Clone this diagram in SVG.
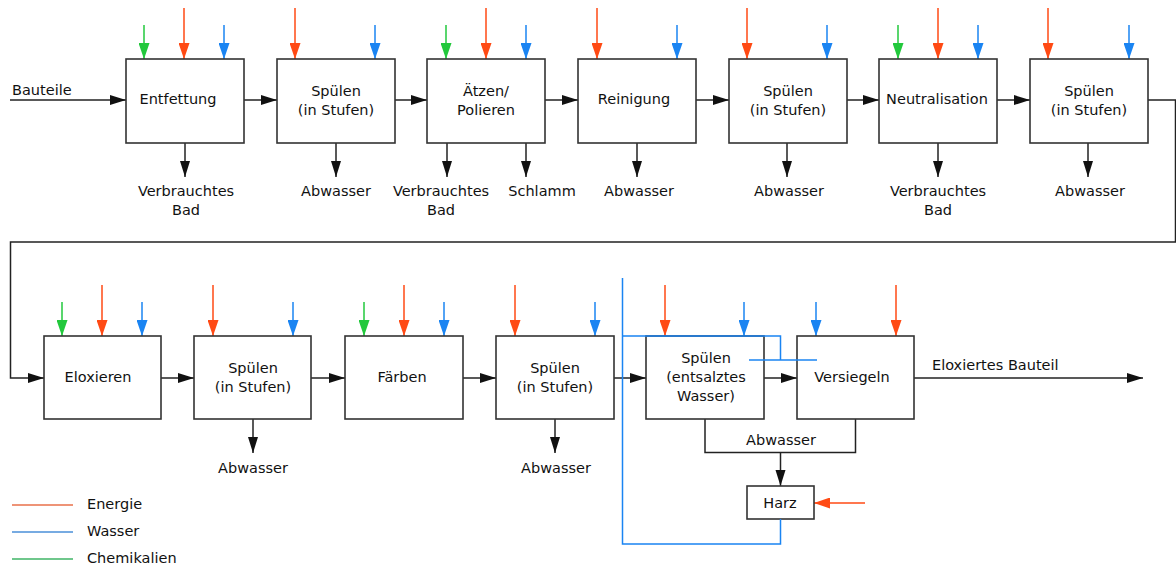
<svg xmlns="http://www.w3.org/2000/svg" width="1176" height="564" viewBox="0 0 1176 564">
<defs>
<style>
text{font-family:"DejaVu Sans","Verdana",sans-serif;font-size:14.5px;fill:#111;text-anchor:middle}
.box{fill:#fff;stroke:#333;stroke-width:1.6}
.ln{fill:none;stroke:#222;stroke-width:1.5}
.r{stroke:#ff4a14;stroke-width:1.5;fill:none}
.b{stroke:#1a84f2;stroke-width:1.5;fill:none}
.g{stroke:#22c83c;stroke-width:1.5;fill:none}
.lr{stroke:#e8704a;stroke-width:1.6}
.lb{stroke:#4a8fd8;stroke-width:1.6}
.lg{stroke:#3fb466;stroke-width:1.6}
.st{text-anchor:start}
</style>
<marker id="ak" markerUnits="userSpaceOnUse" markerWidth="17" markerHeight="11" refX="16" refY="5.5" orient="auto"><path d="M0,0.5 L16,5.5 L0,10.5 z" fill="#111"/></marker>
<marker id="ar" markerUnits="userSpaceOnUse" markerWidth="17" markerHeight="11" refX="16" refY="5.5" orient="auto"><path d="M0,0 L16,5.5 L0,11 z" fill="#ff4a14"/></marker>
<marker id="ab" markerUnits="userSpaceOnUse" markerWidth="17" markerHeight="11" refX="16" refY="5.5" orient="auto"><path d="M0,0 L16,5.5 L0,11 z" fill="#1a84f2"/></marker>
<marker id="ag" markerUnits="userSpaceOnUse" markerWidth="17" markerHeight="11" refX="16" refY="5.5" orient="auto"><path d="M0,0 L16,5.5 L0,11 z" fill="#22c83c"/></marker>
</defs>
<rect width="1176" height="564" fill="#fff"/>

<g id="connectors">
<line class="ln" x1="10" y1="100" x2="126" y2="100" marker-end="url(#ak)"/>
<line class="ln" x1="244" y1="100" x2="277" y2="100" marker-end="url(#ak)"/>
<line class="ln" x1="395" y1="100" x2="427" y2="100" marker-end="url(#ak)"/>
<line class="ln" x1="545" y1="100" x2="578" y2="100" marker-end="url(#ak)"/>
<line class="ln" x1="696" y1="100" x2="729" y2="100" marker-end="url(#ak)"/>
<line class="ln" x1="847" y1="100" x2="879" y2="100" marker-end="url(#ak)"/>
<line class="ln" x1="997" y1="100" x2="1030" y2="100" marker-end="url(#ak)"/>
<path class="ln" d="M1148,100 H1175.5 V242 H10.5 V378 H44" marker-end="url(#ak)"/>
<line class="ln" x1="185" y1="143" x2="185" y2="177" marker-end="url(#ak)"/>
<line class="ln" x1="336" y1="143" x2="336" y2="177" marker-end="url(#ak)"/>
<line class="ln" x1="447" y1="143" x2="447" y2="177" marker-end="url(#ak)"/>
<line class="ln" x1="526" y1="143" x2="526" y2="177" marker-end="url(#ak)"/>
<line class="ln" x1="637" y1="143" x2="637" y2="177" marker-end="url(#ak)"/>
<line class="ln" x1="787" y1="143" x2="787" y2="177" marker-end="url(#ak)"/>
<line class="ln" x1="938" y1="143" x2="938" y2="177" marker-end="url(#ak)"/>
<line class="ln" x1="1088" y1="143" x2="1088" y2="177" marker-end="url(#ak)"/>
<line class="g" x1="144" y1="25" x2="144" y2="59" marker-end="url(#ag)"/>
<line class="r" x1="184" y1="8" x2="184" y2="59" marker-end="url(#ar)"/>
<line class="b" x1="224" y1="25" x2="224" y2="59" marker-end="url(#ab)"/>
<line class="r" x1="295" y1="8" x2="295" y2="59" marker-end="url(#ar)"/>
<line class="b" x1="375" y1="25" x2="375" y2="59" marker-end="url(#ab)"/>
<line class="g" x1="446" y1="25" x2="446" y2="59" marker-end="url(#ag)"/>
<line class="r" x1="486" y1="8" x2="486" y2="59" marker-end="url(#ar)"/>
<line class="b" x1="526" y1="25" x2="526" y2="59" marker-end="url(#ab)"/>
<line class="r" x1="597" y1="8" x2="597" y2="59" marker-end="url(#ar)"/>
<line class="b" x1="677" y1="25" x2="677" y2="59" marker-end="url(#ab)"/>
<line class="r" x1="747" y1="8" x2="747" y2="59" marker-end="url(#ar)"/>
<line class="b" x1="827" y1="25" x2="827" y2="59" marker-end="url(#ab)"/>
<line class="g" x1="898" y1="25" x2="898" y2="59" marker-end="url(#ag)"/>
<line class="r" x1="938" y1="8" x2="938" y2="59" marker-end="url(#ar)"/>
<line class="b" x1="978" y1="25" x2="978" y2="59" marker-end="url(#ab)"/>
<line class="r" x1="1048" y1="8" x2="1048" y2="59" marker-end="url(#ar)"/>
<line class="b" x1="1129" y1="25" x2="1129" y2="59" marker-end="url(#ab)"/>
<line class="ln" x1="161" y1="378" x2="194" y2="378" marker-end="url(#ak)"/>
<line class="ln" x1="311" y1="378" x2="345" y2="378" marker-end="url(#ak)"/>
<line class="ln" x1="463" y1="378" x2="496" y2="378" marker-end="url(#ak)"/>
<line class="ln" x1="614" y1="378" x2="646" y2="378" marker-end="url(#ak)"/>
<line class="ln" x1="764" y1="378" x2="797" y2="378" marker-end="url(#ak)"/>
<line class="ln" x1="914" y1="378" x2="1143" y2="378" marker-end="url(#ak)"/>
<line class="ln" x1="253" y1="419" x2="253" y2="453" marker-end="url(#ak)"/>
<line class="ln" x1="555" y1="419" x2="555" y2="453" marker-end="url(#ak)"/>
<path class="ln" d="M705,419 V452.5 H855.5 V419"/>
<line class="ln" x1="780.5" y1="452.5" x2="780.5" y2="486" marker-end="url(#ak)"/>
<line class="g" x1="62" y1="302" x2="62" y2="336" marker-end="url(#ag)"/>
<line class="r" x1="102" y1="285" x2="102" y2="336" marker-end="url(#ar)"/>
<line class="b" x1="142" y1="302" x2="142" y2="336" marker-end="url(#ab)"/>
<line class="r" x1="213" y1="285" x2="213" y2="336" marker-end="url(#ar)"/>
<line class="b" x1="293" y1="302" x2="293" y2="336" marker-end="url(#ab)"/>
<line class="g" x1="364" y1="302" x2="364" y2="336" marker-end="url(#ag)"/>
<line class="r" x1="404" y1="285" x2="404" y2="336" marker-end="url(#ar)"/>
<line class="b" x1="444" y1="302" x2="444" y2="336" marker-end="url(#ab)"/>
<line class="r" x1="515" y1="285" x2="515" y2="336" marker-end="url(#ar)"/>
<line class="b" x1="595" y1="302" x2="595" y2="336" marker-end="url(#ab)"/>
<line class="r" x1="665" y1="285" x2="665" y2="336" marker-end="url(#ar)"/>
<line class="b" x1="744" y1="302" x2="744" y2="336" marker-end="url(#ab)"/>
<line class="b" x1="816" y1="302" x2="816" y2="336" marker-end="url(#ab)"/>
<line class="r" x1="896" y1="285" x2="896" y2="336" marker-end="url(#ar)"/>
<line class="r" x1="865" y1="503" x2="814" y2="503" marker-end="url(#ar)"/>
</g>

<g id="top-row">
<g id="n-entfettung"><rect class="box" x="126" y="59" width="118" height="84"/><text x="178" y="104">Entfettung</text></g>
<g id="n-spuelen1"><rect class="box" x="277" y="59" width="118" height="84"/><text x="336" y="96">Spülen</text><text x="336" y="115">(in Stufen)</text></g>
<g id="n-aetzen"><rect class="box" x="427" y="59" width="118" height="84"/><text x="486" y="96">Ätzen/</text><text x="486" y="115">Polieren</text></g>
<g id="n-reinigung"><rect class="box" x="578" y="59" width="118" height="84"/><text x="634" y="104">Reinigung</text></g>
<g id="n-spuelen2"><rect class="box" x="729" y="59" width="118" height="84"/><text x="788" y="96">Spülen</text><text x="788" y="115">(in Stufen)</text></g>
<g id="n-neutral"><rect class="box" x="879" y="59" width="118" height="84"/><text x="937" y="104">Neutralisation</text></g>
<g id="n-spuelen3"><rect class="box" x="1030" y="59" width="118" height="84"/><text x="1089" y="96">Spülen</text><text x="1089" y="115">(in Stufen)</text></g>
</g>

<g id="bottom-row">
<g id="n-eloxieren"><rect class="box" x="44" y="336" width="117" height="83"/><text x="98" y="382">Eloxieren</text></g>
<g id="n-spuelen4"><rect class="box" x="194" y="336" width="117" height="83"/><text x="253" y="373">Spülen</text><text x="253" y="392">(in Stufen)</text></g>
<g id="n-faerben"><rect class="box" x="345" y="336" width="118" height="83"/><text x="402" y="382">Färben</text></g>
<g id="n-spuelen5"><rect class="box" x="496" y="336" width="118" height="83"/><text x="555" y="373">Spülen</text><text x="555" y="392">(in Stufen)</text></g>
<g id="n-spuelen-ent"><rect class="box" x="646" y="336" width="118" height="83"/><text x="706" y="363">Spülen</text><text x="706" y="382">(entsalztes</text><text x="706" y="401">Wasser)</text></g>
<g id="n-versiegeln"><rect class="box" x="797" y="336" width="117" height="83"/><text x="852" y="382">Versiegeln</text></g>
<g id="n-harz"><rect class="box" x="747" y="486" width="67" height="33"/><text x="780" y="508">Harz</text></g>
</g>

<g id="water-loop">
<path class="b" d="M622.5,278 V544 H780.5 V519"/>
<path class="b" d="M622.5,336 H780.5 V360"/>
<line class="b" x1="749" y1="360" x2="817" y2="360"/>
</g>

<g id="labels">
<text class="st" x="12" y="95">Bauteile</text>
<text x="186" y="196">Verbrauchtes</text><text x="186" y="215">Bad</text>
<text x="336" y="196">Abwasser</text>
<text x="441" y="196">Verbrauchtes</text><text x="441" y="215">Bad</text>
<text x="542" y="196">Schlamm</text>
<text x="639" y="196">Abwasser</text>
<text x="789" y="196">Abwasser</text>
<text x="938" y="196">Verbrauchtes</text><text x="938" y="215">Bad</text>
<text x="1090" y="196">Abwasser</text>
<text x="253" y="473">Abwasser</text>
<text x="556" y="473">Abwasser</text>
<text x="781" y="445">Abwasser</text>
<text class="st" x="932" y="370">Eloxiertes Bauteil</text>
</g>

<g id="legend">
<line class="lr" x1="12" y1="505" x2="73" y2="505"/><text class="st" x="87" y="509">Energie</text>
<line class="lb" x1="12" y1="532" x2="73" y2="532"/><text class="st" x="87" y="536">Wasser</text>
<line class="lg" x1="12" y1="559" x2="73" y2="559"/><text class="st" x="87" y="563">Chemikalien</text>
</g>
</svg>
